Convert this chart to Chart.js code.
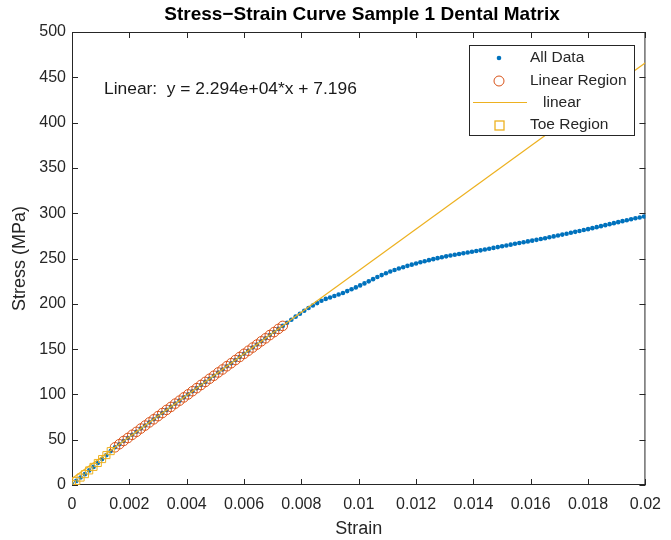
<!DOCTYPE html>
<html lang="en">
<head>
    <meta charset="UTF-8">
    <title>Stress-Strain Curve Sample 1 Dental Matrix</title>
    <script src="https://cdn.jsdelivr.net/npm/chart.js"></script>
    <style>
        body { margin: 0; background: #fff; }
    </style>
</head>
<body>
    <canvas id="ssChart" width="671" height="540"></canvas>
    <script>
        // measured strain values (step ~0.00015)
        const strain = [
            0, 0.00015, 0.0003, 0.00045, 0.0006, 0.00075, 0.0009, 0.00105, 0.0012, 0.00135,
            0.0015, 0.00165, 0.0018, 0.00195, 0.0021, 0.00225, 0.0024, 0.00255, 0.0027, 0.00285,
            0.003, 0.00315, 0.0033, 0.00345, 0.0036, 0.00375, 0.0039, 0.00405, 0.0042, 0.00435,
            0.0045, 0.00465, 0.0048, 0.00495, 0.0051, 0.00525, 0.0054, 0.00555, 0.0057, 0.00585,
            0.006, 0.00615, 0.0063, 0.00645, 0.0066, 0.00675, 0.0069, 0.00705, 0.0072, 0.00735,
            0.0075, 0.00765, 0.0078, 0.00795, 0.0081, 0.00825, 0.0084, 0.00855, 0.0087, 0.00885,
            0.009, 0.00915, 0.0093, 0.00945, 0.0096, 0.00975, 0.0099, 0.01005, 0.0102, 0.01035,
            0.0105, 0.01065, 0.0108, 0.01095, 0.0111, 0.01125, 0.0114, 0.01155, 0.0117, 0.01185,
            0.012, 0.01215, 0.0123, 0.01245, 0.0126, 0.01275, 0.0129, 0.01305, 0.0132, 0.01335,
            0.0135, 0.01365, 0.0138, 0.01395, 0.0141, 0.01425, 0.0144, 0.01455, 0.0147, 0.01485,
            0.015, 0.01515, 0.0153, 0.01545, 0.0156, 0.01575, 0.0159, 0.01605, 0.0162, 0.01635,
            0.0165, 0.01665, 0.0168, 0.01695, 0.0171, 0.01725, 0.0174, 0.01755, 0.0177, 0.01785,
            0.018, 0.01815, 0.0183, 0.01845, 0.0186, 0.01875, 0.0189, 0.01905, 0.0192, 0.01935,
            0.0195, 0.01965, 0.0198, 0.01995
        ];
        // stress in MPa
        const stress = [
            1.0, 4.5, 8.2, 12.0, 16.1, 20.0, 24.3, 28.6, 33.0, 37.4,
            41.6, 45.0, 48.6, 51.9, 55.4, 58.7, 62.3, 65.6, 69.1, 72.5,
            76.0, 79.4, 82.9, 86.2, 89.8, 93.1, 96.7, 100.0, 103.5, 106.9,
            110.4, 113.8, 117.3, 120.6, 124.2, 127.5, 131.1, 134.4, 137.9, 141.3,
            144.8, 148.2, 151.7, 155.0, 158.6, 161.9, 165.5, 168.8, 172.3, 175.6,
            179.0, 182.4, 185.8, 189.0, 192.3, 195.3, 198.2, 200.8, 203.3, 205.4,
            207.0, 208.6, 210.2, 212.0, 214.0, 216.0, 218.1, 220.3, 222.5, 224.8,
            227.2, 229.5, 231.7, 233.7, 235.6, 237.3, 238.9, 240.4, 241.9, 243.2,
            244.5, 245.8, 247.0, 248.2, 249.3, 250.4, 251.4, 252.4, 253.3, 254.2,
            255.0, 255.8, 256.6, 257.4, 258.2, 259.0, 259.9, 260.8, 261.7, 262.6,
            263.5, 264.4, 265.3, 266.2, 267.1, 268.0, 268.9, 269.7, 270.6, 271.5,
            272.4, 273.4, 274.4, 275.4, 276.4, 277.4, 278.4, 279.4, 280.4, 281.4,
            282.4, 283.5, 284.6, 285.7, 286.8, 287.9, 289.0, 290.1, 291.2, 292.3,
            293.4, 294.4, 295.3, 296.3
        ];
        const toeEnd = 10;      // points 0..9 are the toe region
        const linearEnd = 50;   // points 10..49 are the linear region
        const fitSlope = 22940;
        const fitIntercept = 7.196;
        const fitLabel = 'Linear:  y = 2.294e+04*x + 7.196';
        const xTicks = [0, 0.002, 0.004, 0.006, 0.008, 0.01, 0.012, 0.014, 0.016, 0.018, 0.02];
        const yTicks = [0, 50, 100, 150, 200, 250, 300, 350, 400, 450, 500];

        const pts = strain.map((s, i) => ({ x: s, y: stress[i] }));
        const fitLine = [0, 0.02].map(s => ({ x: s, y: fitSlope * s + fitIntercept }));

        const BLUE = '#0072BD', ORANGE = '#D95319', YELLOW = '#EDB120', AXIS = '#262626';
        const FONT = '"Liberation Sans", Arial, sans-serif';

        // box, inward ticks, title and fit text
        const frame = {
            id: 'frame',
            beforeDatasetsDraw(chart) {
                const { ctx, chartArea: a, scales } = chart;
                ctx.save();
                ctx.strokeStyle = AXIS;
                ctx.lineWidth = 1;
                ctx.strokeRect(a.left + 0.5, a.top + 0.5, a.right - a.left - 1, a.bottom - a.top - 1);
                ctx.beginPath();
                xTicks.forEach(v => {
                    const px = Math.round(scales.x.getPixelForValue(v)) + 0.5;
                    ctx.moveTo(px, a.bottom); ctx.lineTo(px, a.bottom - 6);
                    ctx.moveTo(px, a.top); ctx.lineTo(px, a.top + 6);
                });
                yTicks.forEach(v => {
                    const py = Math.round(scales.y.getPixelForValue(v)) + 0.5;
                    ctx.moveTo(a.left, py); ctx.lineTo(a.left + 6, py);
                    ctx.moveTo(a.right, py); ctx.lineTo(a.right - 6, py);
                });
                ctx.stroke();

                ctx.fillStyle = '#000';
                ctx.font = 'bold 19px ' + FONT;
                ctx.textAlign = 'center';
                ctx.textBaseline = 'middle';
                ctx.fillText('Stress\u2212Strain Curve Sample 1 Dental Matrix', 362, 15);

                ctx.fillStyle = '#1a1a1a';
                ctx.font = '17.4px ' + FONT;
                ctx.textAlign = 'left';
                ctx.fillText(fitLabel, 104, 89);
                ctx.restore();
            },
            afterDatasetsDraw(chart) {
                const ctx = chart.ctx;
                ctx.save();
                ctx.fillStyle = '#fff';
                ctx.fillRect(469, 45, 165, 90);
                ctx.strokeStyle = AXIS;
                ctx.lineWidth = 1;
                ctx.strokeRect(469.5, 45.5, 165, 90);

                ctx.fillStyle = BLUE;
                ctx.beginPath(); ctx.arc(499, 58, 2.3, 0, Math.PI * 2); ctx.fill();
                ctx.strokeStyle = ORANGE;
                ctx.beginPath(); ctx.arc(499, 81, 5, 0, Math.PI * 2); ctx.stroke();
                ctx.strokeStyle = YELLOW;
                ctx.beginPath(); ctx.moveTo(473, 102.5); ctx.lineTo(527, 102.5); ctx.stroke();
                ctx.lineWidth = 1.3;
                ctx.strokeRect(495, 121, 9, 9);

                ctx.fillStyle = AXIS;
                ctx.font = '15.5px ' + FONT;
                ctx.textBaseline = 'middle';
                ctx.fillText('All Data', 530, 58);
                ctx.fillText('Linear Region', 530, 81);
                ctx.fillText('linear', 543, 103);
                ctx.fillText('Toe Region', 530, 125);
                ctx.restore();
            }
        };

        new Chart(document.getElementById('ssChart'), {
            type: 'scatter',
            data: {
                datasets: [{
                    label: 'All Data',
                    data: pts,
                    pointStyle: 'circle',
                    pointRadius: 2.3,
                    pointBackgroundColor: BLUE,
                    pointBorderWidth: 0,
                    order: 4
                }, {
                    label: 'Linear Region',
                    data: pts.slice(toeEnd, linearEnd),
                    pointStyle: 'circle',
                    pointRadius: 4.8,
                    pointBackgroundColor: 'rgba(0,0,0,0)',
                    pointBorderColor: ORANGE,
                    pointBorderWidth: 1,
                    order: 3
                }, {
                    label: 'linear',
                    data: fitLine,
                    showLine: true,
                    borderColor: YELLOW,
                    borderWidth: 1.2,
                    pointRadius: 0,
                    order: 2
                }, {
                    label: 'Toe Region',
                    data: pts.slice(0, toeEnd),
                    pointStyle: 'rect',
                    pointRadius: 5,
                    pointBackgroundColor: 'rgba(0,0,0,0)',
                    pointBorderColor: YELLOW,
                    pointBorderWidth: 1,
                    order: 1
                }]
            },
            options: {
                responsive: false,
                animation: false,
                devicePixelRatio: 1,
                layout: { padding: { top: 32, right: 23, left: 0, bottom: 0 } },
                plugins: {
                    legend: { display: false },
                    title: { display: false },
                    tooltip: { enabled: false }
                },
                scales: {
                    x: {
                        type: 'linear',
                        min: 0,
                        max: 0.02,
                        afterBuildTicks: s => { s.ticks = xTicks.map(v => ({ value: v })); },
                        afterFit: s => { s.height = 55; },
                        grid: { display: false, drawTicks: false },
                        border: { display: false },
                        ticks: {
                            padding: 10,
                            autoSkip: false,
                            maxRotation: 0,
                            color: AXIS,
                            font: { family: FONT, size: 16 },
                            callback: v => String(parseFloat(Number(v).toFixed(4)))
                        },
                        title: {
                            display: true,
                            text: 'Strain',
                            color: AXIS,
                            font: { family: FONT, size: 18 },
                            padding: { top: 0, bottom: 0 }
                        }
                    },
                    y: {
                        type: 'linear',
                        min: 0,
                        max: 500,
                        afterBuildTicks: s => { s.ticks = yTicks.map(v => ({ value: v })); },
                        afterFit: s => { s.width = 72; },
                        grid: { display: false, drawTicks: false },
                        border: { display: false },
                        ticks: {
                            padding: 6,
                            color: AXIS,
                            font: { family: FONT, size: 16 }
                        },
                        title: {
                            display: true,
                            text: 'Stress (MPa)',
                            color: AXIS,
                            font: { family: FONT, size: 18 },
                            padding: { top: 9, bottom: 0 }
                        }
                    }
                }
            },
            plugins: [frame]
        });
    </script>
</body>
</html>
